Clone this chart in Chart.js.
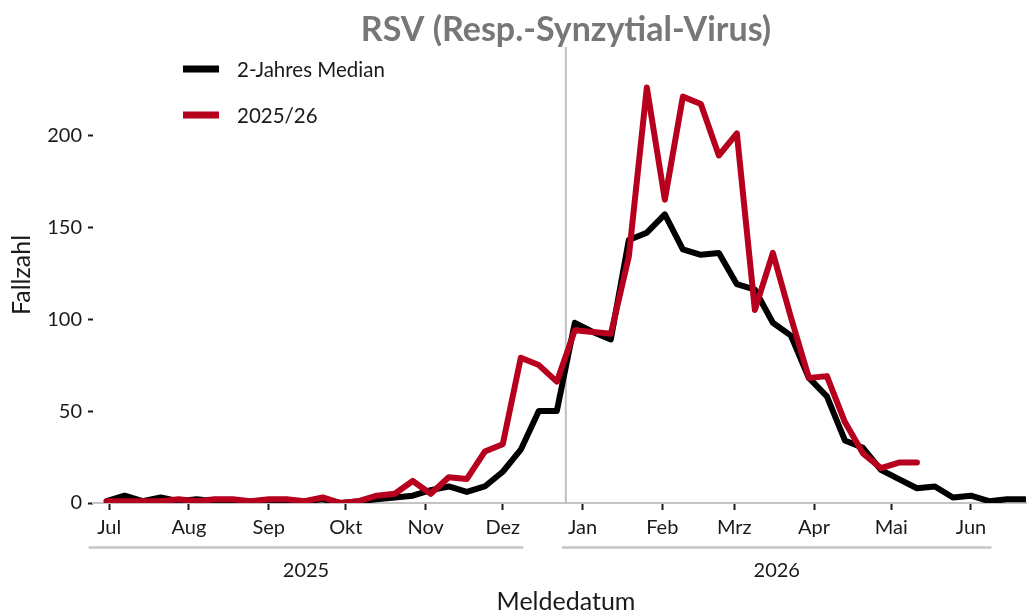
<!DOCTYPE html>
<html>
<head>
<meta charset="utf-8">
<script src="https://cdn.jsdelivr.net/npm/chart.js@4/dist/chart.umd.min.js"></script>
<style>
  html, body { margin: 0; padding: 0; background: #ffffff; }
  #wrap { width: 1028px; height: 615px; }
</style>
</head>
<body>
<div id="wrap"><canvas id="c" width="1028" height="615"></canvas></div>
<script>
// ---------- data ----------
const chartTitle = 'RSV (Resp.-Synzytial-Virus)';
const xAxisTitle = 'Meldedatum';
const yAxisTitle = 'Fallzahl';

const weekStarts = [
  '2025-06-30','2025-07-07','2025-07-14','2025-07-21','2025-07-28',
  '2025-08-04','2025-08-11','2025-08-18','2025-08-25',
  '2025-09-01','2025-09-08','2025-09-15','2025-09-22','2025-09-29',
  '2025-10-06','2025-10-13','2025-10-20','2025-10-27',
  '2025-11-03','2025-11-10','2025-11-17','2025-11-24',
  '2025-12-01','2025-12-08','2025-12-15','2025-12-22','2025-12-29',
  '2026-01-05','2026-01-12','2026-01-19','2026-01-26',
  '2026-02-02','2026-02-09','2026-02-16','2026-02-23',
  '2026-03-02','2026-03-09','2026-03-16','2026-03-23','2026-03-30',
  '2026-04-06','2026-04-13','2026-04-20','2026-04-27',
  '2026-05-04','2026-05-11','2026-05-18','2026-05-25',
  '2026-06-01','2026-06-08','2026-06-15','2026-06-22'
];

const medianLabel = '2-Jahres Median';
const medianValues = [
  1, 4, 1, 3, 1, 2, 1, 1, 1, 1, 1, 1, 2, 0,
  1, 2, 3, 4, 7, 9, 6, 9, 17, 29, 50, 50,
  98, 93, 89, 143, 147, 157, 138, 135, 136, 119, 116, 98, 91,
  68, 58, 34, 30, 18, 13, 8, 9, 3, 4, 1, 2, 2
];

const seasonLabel = '2025/26';
const seasonValues = [
  1, 1, 1, 1, 2, 1, 2, 2, 1, 2, 2, 1, 3, 0,
  1, 4, 5, 12, 5, 14, 13, 28, 32, 79, 75, 66,
  94, 93, 92, 134, 226, 165, 221, 217, 189, 201, 105, 136, 101,
  68, 69, 44, 27, 19, 22, 22
];

const monthTickDates = [
  '2025-07-01','2025-08-01','2025-09-01','2025-10-01','2025-11-01','2025-12-01',
  '2026-01-01','2026-02-01','2026-03-01','2026-04-01','2026-05-01','2026-06-01'
];
const monthTickLabels = ['Jul','Aug','Sep','Okt','Nov','Dez','Jan','Feb','Mrz','Apr','Mai','Jun'];

const yearLabels = ['2025', '2026'];
const yearFirstTick = ['2025-07-01', '2026-01-01'];
const yearLastTick  = ['2025-12-01', '2026-06-01'];

const yTickValues = [0, 50, 100, 150, 200];

// week boundary marker: between last 2025 week and first 2026 week
const markerWeeks = ['2025-12-22', '2025-12-29'];

// ---------- helpers ----------
const ORIGIN = Date.UTC(2025, 6, 1);
function dayOf(s) {
  const [y, m, d] = s.split('-').map(Number);
  return (Date.UTC(y, m - 1, d) - ORIGIN) / 864e5;
}
const monthTickDays = monthTickDates.map(dayOf);
const medianPoints = medianValues.map((v, i) => ({ x: dayOf(weekStarts[i]), y: v }));
const seasonPoints = seasonValues.map((v, i) => ({ x: dayOf(weekStarts[i]), y: v }));
const markerDay = (dayOf(markerWeeks[0]) + dayOf(markerWeeks[1])) / 2;

const FONT = 'Lato, "Open Sans", sans-serif';
const TEXT = '#1a1a1a';
const RED = '#b7001e';
const GREY_LINE = '#c4c4c4';

const decorPlugin = {
  id: 'decor',
  beforeDatasetsDraw(chart) {
    const { ctx, chartArea, scales } = chart;
    const xs = scales.x;
    const px = xs.getPixelForValue(markerDay);
    ctx.save();
    ctx.strokeStyle = '#c0c0c0';
    ctx.lineWidth = 2;
    ctx.beginPath();
    ctx.moveTo(px, chartArea.top);
    ctx.lineTo(px, chartArea.bottom);
    ctx.stroke();
    ctx.restore();
  },
  afterDraw(chart) {
    const { ctx, scales } = chart;
    const xs = scales.x;
    ctx.save();
    // title
    ctx.font = 'bold 34px ' + FONT;
    ctx.fillStyle = '#777777';
    ctx.textAlign = 'center';
    ctx.textBaseline = 'middle';
    ctx.fillText(chartTitle, 566, 30);

    // legend
    const legendItems = [
      { label: medianLabel, color: '#000000', y: 69 },
      { label: seasonLabel, color: RED, y: 115 }
    ];
    legendItems.forEach(it => {
      ctx.strokeStyle = it.color;
      ctx.lineWidth = 7;
      ctx.lineCap = 'butt';
      ctx.beginPath();
      ctx.moveTo(183, it.y);
      ctx.lineTo(219, it.y);
      ctx.stroke();
      ctx.font = '20.5px ' + FONT;
      ctx.fillStyle = TEXT;
      ctx.textAlign = 'left';
      ctx.textBaseline = 'middle';
      ctx.fillText(it.label, 237, it.y + 1);
    });

    // year brackets
    yearLabels.forEach((lab, i) => {
      const x0 = xs.getPixelForValue(dayOf(yearFirstTick[i]) - 8);
      const x1 = xs.getPixelForValue(dayOf(yearLastTick[i]) + 8);
      ctx.strokeStyle = GREY_LINE;
      ctx.lineWidth = 2.5;
      ctx.beginPath();
      ctx.moveTo(x0, 547.5);
      ctx.lineTo(x1, 547.5);
      ctx.stroke();
      ctx.font = '20px ' + FONT;
      ctx.fillStyle = TEXT;
      ctx.textAlign = 'center';
      ctx.textBaseline = 'middle';
      ctx.fillText(lab, (x0 + x1) / 2, 571);
    });

    // axis titles
    ctx.font = '25px ' + FONT;
    ctx.fillStyle = TEXT;
    ctx.textAlign = 'center';
    ctx.textBaseline = 'middle';
    ctx.fillText(xAxisTitle, 566, 602);
    ctx.translate(22, 275);
    ctx.rotate(-Math.PI / 2);
    ctx.fillText(yAxisTitle, 0, 0);
    ctx.restore();
  }
};

new Chart(document.getElementById('c'), {
  type: 'line',
  data: {
    datasets: [
      {
        label: medianLabel,
        data: medianPoints,
        borderColor: '#000000',
        backgroundColor: '#000000',
        borderWidth: 6,
        pointRadius: 0,
        tension: 0,
        borderJoinStyle: 'round',
        borderCapStyle: 'round',
        order: 2
      },
      {
        label: seasonLabel,
        data: seasonPoints,
        borderColor: RED,
        backgroundColor: RED,
        borderWidth: 6,
        pointRadius: 0,
        tension: 0,
        borderJoinStyle: 'round',
        borderCapStyle: 'round',
        order: 1
      }
    ]
  },
  options: {
    responsive: false,
    animation: false,
    devicePixelRatio: 1,
    layout: { padding: { top: 47, right: 2, left: 0, bottom: 0 } },
    plugins: {
      legend: { display: false },
      title: { display: false },
      tooltip: { enabled: false }
    },
    scales: {
      x: {
        type: 'linear',
        min: -6.3,
        max: 356.4,
        afterFit(s) { s.height = 112; },
        afterBuildTicks(s) { s.ticks = monthTickDays.map(v => ({ value: v })); },
        grid: {
          drawOnChartArea: false,
          drawTicks: true,
          tickLength: 7,
          tickColor: TEXT,
          tickWidth: 2
        },
        border: { display: true, color: GREY_LINE, width: 2 },
        ticks: {
          autoSkip: false,
          maxRotation: 0,
          padding: 6,
          color: TEXT,
          font: { family: FONT, size: 20 },
          callback(v) {
            const i = monthTickDays.indexOf(v);
            return i >= 0 ? monthTickLabels[i] : '';
          }
        }
      },
      y: {
        type: 'linear',
        min: 0,
        max: 248,
        afterFit(s) { s.width = 93; },
        afterBuildTicks(s) { s.ticks = yTickValues.map(v => ({ value: v })); },
        grid: {
          drawOnChartArea: false,
          drawTicks: true,
          tickLength: 5,
          tickColor: TEXT,
          tickWidth: 2
        },
        border: { display: false },
        ticks: {
          padding: 6,
          color: TEXT,
          font: { family: FONT, size: 20 }
        }
      }
    }
  },
  plugins: [decorPlugin]
});
</script>
</body>
</html>
